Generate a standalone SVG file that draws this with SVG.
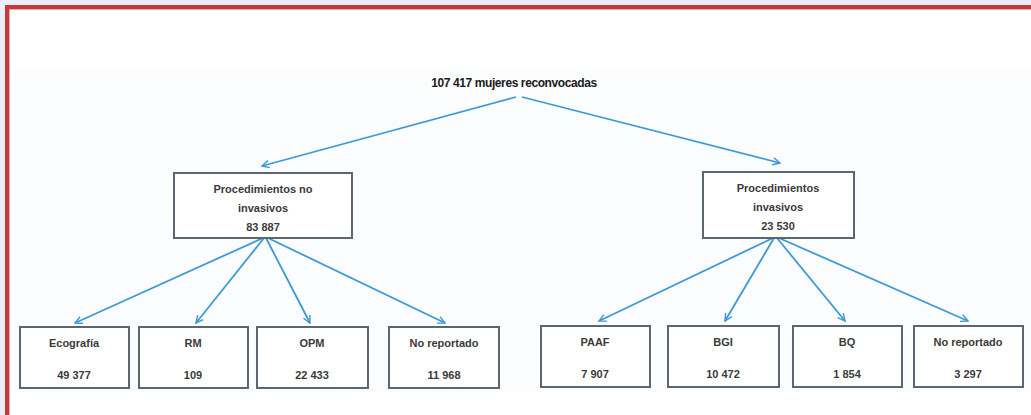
<svg xmlns="http://www.w3.org/2000/svg" width="1031" height="415" viewBox="0 0 1031 415">
<defs>
<marker id="ah" viewBox="0 0 10 10" refX="9" refY="5" markerWidth="9" markerHeight="9" markerUnits="userSpaceOnUse" orient="auto">
<path d="M1,1 L9,5 L1,9" fill="none" stroke="#3d9ad6" stroke-width="1.6"/>
</marker>
<style>
.box{fill:#ffffff;stroke:#5b6670;stroke-width:2}
.t{font-family:"Liberation Sans",Arial,sans-serif;font-size:11px;font-weight:bold;fill:#3a3a3a;text-anchor:middle}
.top{font-family:"Liberation Sans",Arial,sans-serif;font-size:12px;font-weight:bold;fill:#1a1a1a;text-anchor:middle;letter-spacing:-0.4px}
.c{stroke:#3d9ad6;stroke-width:1.8;fill:none;marker-end:url(#ah)}
</style>
</defs>
<rect x="0" y="0" width="1031" height="415" fill="#eceff7"/>
<rect x="7" y="7" width="1100" height="500" fill="#ffffff" stroke="#c8393d" stroke-width="4"/>
<rect x="9.5" y="9.5" width="1100" height="500" fill="none" stroke="#f2a5a5" stroke-width="1"/>
<rect x="15" y="70" width="1016" height="322" fill="#fbfcfe"/>

<g id="connectors">
<line class="c" x1="516" y1="97" x2="262" y2="166"/>
<line class="c" x1="522" y1="97" x2="780" y2="163"/>
<line class="c" x1="263" y1="238" x2="75" y2="323"/>
<line class="c" x1="264" y1="238" x2="196" y2="323"/>
<line class="c" x1="266" y1="238" x2="310" y2="323"/>
<line class="c" x1="268" y1="238" x2="445" y2="323"/>
<line class="c" x1="773" y1="238" x2="599" y2="321"/>
<line class="c" x1="774" y1="238" x2="725" y2="321"/>
<line class="c" x1="777" y1="238" x2="845" y2="321"/>
<line class="c" x1="779" y1="238" x2="968" y2="321"/>
</g>

<g id="root">
<text class="top" x="514" y="87">107 417 mujeres reconvocadas</text>
</g>

<g id="no-invasivos">
<rect class="box" x="174" y="173" width="178" height="65"/>
<text class="t" x="263" y="193">Procedimientos no</text>
<text class="t" x="263" y="212">invasivos</text>
<text class="t" x="263" y="231">83 887</text>
</g>

<g id="invasivos">
<rect class="box" x="703" y="172" width="151" height="66"/>
<text class="t" x="778" y="192">Procedimientos</text>
<text class="t" x="778" y="211">invasivos</text>
<text class="t" x="778" y="230">23 530</text>
</g>

<g id="ecografia">
<rect class="box" x="20" y="327" width="109" height="61"/>
<text class="t" x="74" y="347">Ecografía</text>
<text class="t" x="74" y="379">49 377</text>
</g>
<g id="rm">
<rect class="box" x="139" y="327" width="109" height="61"/>
<text class="t" x="193" y="347">RM</text>
<text class="t" x="193" y="379">109</text>
</g>
<g id="opm">
<rect class="box" x="257" y="327" width="111" height="61"/>
<text class="t" x="312" y="347">OPM</text>
<text class="t" x="312" y="379">22 433</text>
</g>
<g id="no-reportado-1">
<rect class="box" x="389" y="327" width="110" height="61"/>
<text class="t" x="444" y="347">No reportado</text>
<text class="t" x="444" y="379">11 968</text>
</g>

<g id="paaf">
<rect class="box" x="541" y="326" width="109" height="61"/>
<text class="t" x="595" y="346">PAAF</text>
<text class="t" x="595" y="378">7 907</text>
</g>
<g id="bgi">
<rect class="box" x="668" y="326" width="111" height="61"/>
<text class="t" x="723" y="346">BGI</text>
<text class="t" x="723" y="378">10 472</text>
</g>
<g id="bq">
<rect class="box" x="793" y="326" width="109" height="61"/>
<text class="t" x="847" y="346">BQ</text>
<text class="t" x="847" y="378">1 854</text>
</g>
<g id="no-reportado-2">
<rect class="box" x="914" y="326" width="109" height="61"/>
<text class="t" x="968" y="346">No reportado</text>
<text class="t" x="968" y="378">3 297</text>
</g>
</svg>
